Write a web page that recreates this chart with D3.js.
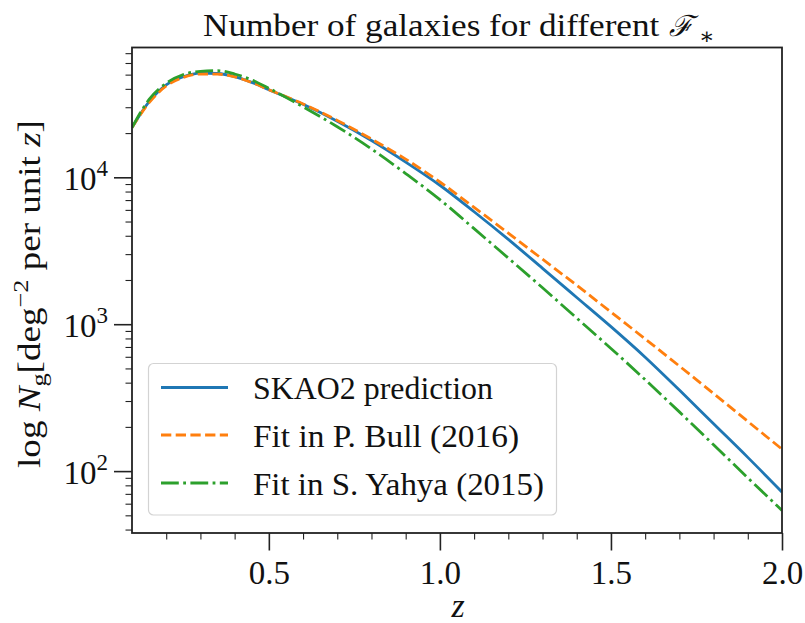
<!DOCTYPE html>
<html>
<head>
<meta charset="utf-8">
<script src="https://cdn.jsdelivr.net/npm/d3@7/dist/d3.min.js"></script>
<style>
  html, body { margin: 0; padding: 0; background: #fff; }
  svg { display: block; }
  text { font-family: "Liberation Serif", "DejaVu Serif", serif; fill: #111; }
</style>
</head>
<body>
<svg id="chart" width="805" height="623"></svg>
<script>
// Redshift grid
const redshift = [0.10, 0.15, 0.20, 0.25, 0.30, 0.35, 0.40, 0.45, 0.50, 0.60, 0.70, 0.80, 0.90,
                  1.00, 1.10, 1.20, 1.30, 1.40, 1.50, 1.60, 1.70, 1.80, 1.90, 2.00];

// Galaxy counts per deg^2 per unit z
const skao2Prediction = [21800, 32700, 42600, 48400, 51200, 50900, 48500, 44300, 39500, 31400, 24100, 17800, 12700,
                         8830, 5830, 3780, 2400, 1520, 962, 596, 356, 210, 124, 72];
const bullFit2016 = [21800, 32200, 41900, 47900, 50500, 50400, 48300, 44200, 39500, 31600, 24400, 18200, 13300,
                     9290, 6240, 4170, 2770, 1840, 1210, 794, 519, 337, 218, 141];
const yahyaFit2015 = [21800, 33900, 43700, 50100, 52700, 53200, 50500, 46000, 40400, 30200, 22100, 15600, 10600,
                      7050, 4470, 2820, 1770, 1100, 684, 419, 253, 151, 90, 54];

const seriesNames = ["SKAO2 prediction", "Fit in P. Bull (2016)", "Fit in S. Yahya (2015)"];
const xTickLabels = ["0.5", "1.0", "1.5", "2.0"];
const yTickExponents = ["2", "3", "4"];

const series = [
  { name: seriesNames[0], values: skao2Prediction, color: "#1f77b4", dash: null },
  { name: seriesNames[1], values: bullFit2016,     color: "#ff7f0e", dash: "10.3,4.4" },
  { name: seriesNames[2], values: yahyaFit2015,    color: "#2ca02c", dash: "17.8,4.4,2.8,4.4" }
];

const svg = d3.select("#chart");
const plot = { left: 132, right: 782, top: 47.5, bottom: 533 };

const x = d3.scaleLinear().domain([0.1, 2.0]).range([plot.left, plot.right]);
const y = d3.scaleLog().domain([37.9, 76500]).range([plot.bottom, plot.top]);

const axisColor = "#222";

// stretch a text element horizontally (in its own frame) to a target width
function fitWidth(sel, target, baseTransform) {
  const w = sel.node().getBBox().width || target;
  const k = target / w;
  sel.attr("transform", `${baseTransform} scale(${k},1)`);
}

// clip for curves
svg.append("defs").append("clipPath").attr("id", "clip")
  .append("rect").attr("x", plot.left).attr("y", plot.top)
  .attr("width", plot.right - plot.left).attr("height", plot.bottom - plot.top);

// curves
const line = d3.line().x(d => x(d[0])).y(d => y(d[1])).curve(d3.curveMonotoneX);
const curves = svg.append("g").attr("clip-path", "url(#clip)");
series.forEach(s => {
  curves.append("path")
    .datum(redshift.map((z, i) => [z, s.values[i]]))
    .attr("d", line)
    .attr("fill", "none")
    .attr("stroke", s.color)
    .attr("stroke-width", 2.8)
    .attr("stroke-dasharray", s.dash)
    .attr("stroke-linejoin", "round");
});

// x axis (bottom)
const xMajor = xTickLabels.map(Number);
const xMinor = d3.range(2, 21).map(v => v / 10).filter(v => !xMajor.some(m => Math.abs(m - v) < 1e-9));
const xAxisMajor = d3.axisBottom(x).tickValues(xMajor).tickSize(17.5).tickPadding(6)
  .tickFormat((d, i) => xTickLabels[i]);
const xAxisMinor = d3.axisBottom(x).tickValues(xMinor).tickSize(6.5).tickFormat("");

const gxMinor = svg.append("g").attr("transform", `translate(0,${plot.bottom})`).call(xAxisMinor);
const gx = svg.append("g").attr("transform", `translate(0,${plot.bottom})`).call(xAxisMajor);
[gx, gxMinor].forEach(g => {
  g.select(".domain").remove();
  g.selectAll("line").attr("stroke", axisColor);
});
gxMinor.selectAll("line").attr("stroke-width", 1.1);
gx.selectAll("line").attr("stroke-width", 1.6);
gx.selectAll("text").attr("font-size", 33).attr("fill", "#111")
  .attr("font-family", "Liberation Serif, DejaVu Serif, serif")
  .attr("dy", "0").attr("y", 50.5);

// y axis (left, log)
const yMajor = yTickExponents.map(e => Math.pow(10, +e));
const yMinor = [];
[1, 2, 3, 4].forEach(dec => {
  for (let k = 2; k <= 9; k++) {
    const v = k * Math.pow(10, dec);
    if (v >= y.domain()[0] && v <= y.domain()[1]) yMinor.push(v);
  }
});
const yAxisMajor = d3.axisLeft(y).tickValues(yMajor).tickSize(18).tickFormat("");
const yAxisMinor = d3.axisLeft(y).tickValues(yMinor).tickSize(6.5).tickFormat("");
const gyMinor = svg.append("g").attr("transform", `translate(${plot.left},0)`).call(yAxisMinor);
const gy = svg.append("g").attr("transform", `translate(${plot.left},0)`).call(yAxisMajor);
[gy, gyMinor].forEach(g => {
  g.select(".domain").remove();
  g.selectAll("line").attr("stroke", axisColor);
});
gyMinor.selectAll("line").attr("stroke-width", 1.1);
gy.selectAll("line").attr("stroke-width", 1.6);

// y tick labels as 10^n
const yLabels = svg.append("g");
yMajor.forEach((v, i) => {
  const t = yLabels.append("text")
    .attr("x", 108).attr("y", y(v) + 12.5)
    .attr("text-anchor", "end")
    .attr("font-size", 33);
  t.append("tspan").text("10");
  t.append("tspan").attr("font-size", 23).attr("dy", -14).text(yTickExponents[i]);
});

// frame
svg.append("rect")
  .attr("x", plot.left).attr("y", plot.top)
  .attr("width", plot.right - plot.left).attr("height", plot.bottom - plot.top)
  .attr("fill", "none").attr("stroke", axisColor).attr("stroke-width", 1.8);

// title: text, calligraphic F and a starred subscript
const titleMain = svg.append("text")
  .attr("x", 0).attr("y", 0)
  .attr("font-size", 31)
  .text("Number of galaxies for different");
fitWidth(titleMain, 457, "translate(203,36)");
svg.append("text")
  .attr("x", 669).attr("y", 36)
  .attr("font-size", 29)
  .attr("font-family", "DejaVu Serif, serif").attr("font-style", "italic")
  .text("\u2131");
svg.append("text")
  .attr("x", 699).attr("y", 44)
  .attr("font-size", 23)
  .text("\u2217");

// x label
svg.append("text")
  .attr("x", 458).attr("y", 617)
  .attr("text-anchor", "middle")
  .attr("font-size", 34)
  .attr("font-style", "italic")
  .text("z");

// y label
const yl = svg.append("text")
  .attr("x", 0).attr("y", 0)
  .attr("text-anchor", "middle")
  .attr("font-size", 31);
yl.append("tspan").text("log ");
yl.append("tspan").attr("font-style", "italic").text("N");
yl.append("tspan").attr("font-size", 22).attr("dy", 6).text("g");
yl.append("tspan").attr("dy", -6).text("[deg");
yl.append("tspan").attr("font-size", 22).attr("dy", -12).text("\u22122");
yl.append("tspan").attr("dy", 12).text(" per unit ");
yl.append("tspan").attr("font-style", "italic").text("z");
yl.append("tspan").text("]");
fitWidth(yl, 348, "translate(40,294) rotate(-90)");

// legend
const legend = svg.append("g");
legend.append("rect")
  .attr("x", 148.5).attr("y", 363.5).attr("width", 408).attr("height", 151.5)
  .attr("rx", 5).attr("ry", 5)
  .attr("fill", "#fff").attr("fill-opacity", 0.8)
  .attr("stroke", "#d3d3d3").attr("stroke-width", 1.2);
const rowY = [387.5, 435, 483];
const textWidths = [240, 266, 291];
series.forEach((s, i) => {
  legend.append("line")
    .attr("x1", 161).attr("x2", 228)
    .attr("y1", rowY[i]).attr("y2", rowY[i])
    .attr("stroke", s.color).attr("stroke-width", 2.8)
    .attr("stroke-dasharray", s.dash);
  legend.append("text")
    .attr("x", 253).attr("y", rowY[i] + 11.5)
    .attr("font-size", 31)
    .attr("textLength", textWidths[i])
    .attr("lengthAdjust", "spacingAndGlyphs")
    .text(s.name);
});
</script>
</body>
</html>
